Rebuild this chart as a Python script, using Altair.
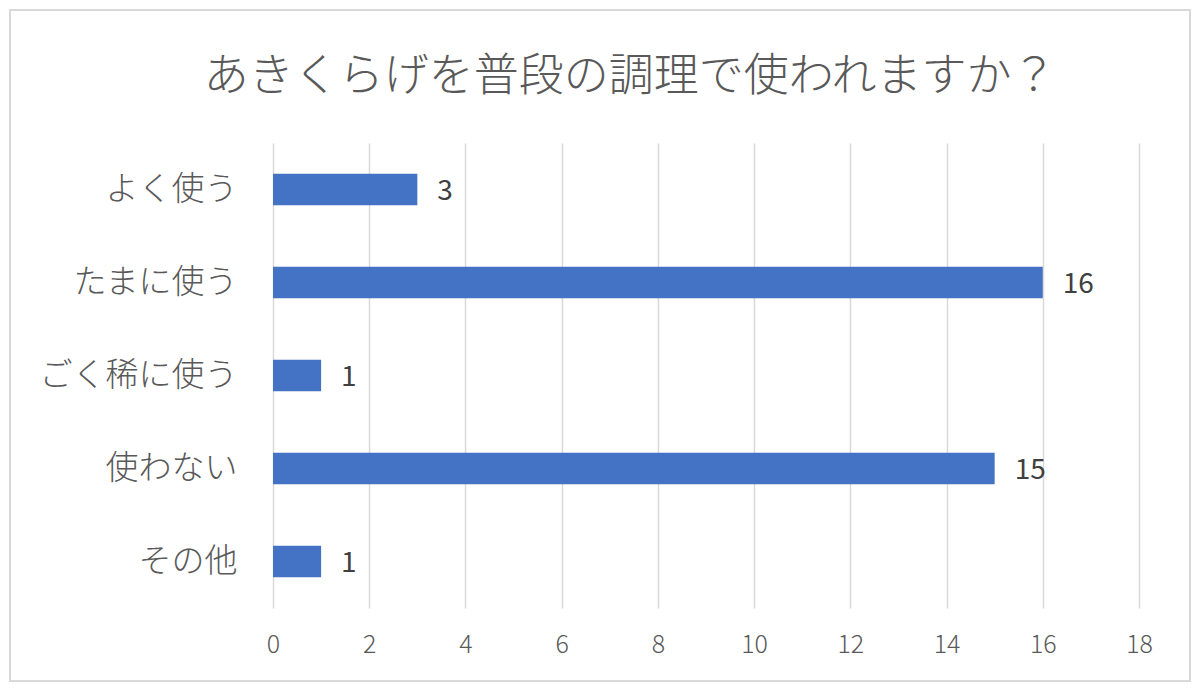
import altair as alt
import pandas as pd

categories = ["よく使う", "たまに使う", "ごく稀に使う", "使わない", "その他"]
counts = [3, 16, 1, 15, 1]
x_ticks = [0, 2, 4, 6, 8, 10, 12, 14, 16, 18]
title_text = "あきくらげを普段の調理で使われますか？"

df = pd.DataFrame({"cat": categories, "n": counts})
tdf = pd.DataFrame({"t": [title_text]})

JP = "Noto Sans CJK JP"

y_enc = alt.Y("cat:N", sort=categories, title=None,
              scale=alt.Scale(paddingInner=0.66, paddingOuter=0.33),
              axis=alt.Axis(labelFontSize=33, labelColor="#595959", labelFont=JP,
                            labelFontWeight=300, labelLimit=400,
                            ticks=False, domain=False, labelPadding=36, grid=False))
x_enc = alt.X("n:Q", title=None,
              scale=alt.Scale(domain=[0, 18], nice=False),
              axis=alt.Axis(values=x_ticks, labelFontSize=25, labelColor="#595959",
                            labelFont=JP, labelFontWeight=300, labelFlush=False,
                            ticks=False, domain=False, labelPadding=24,
                            grid=True, gridColor="#d9d9d9", gridWidth=1.5))

bars = alt.Chart(df).mark_bar(color="#4472C4").encode(x=x_enc, y=y_enc)
labels = alt.Chart(df).mark_text(align="left", baseline="middle", dx=20, dy=2,
                                 fontSize=28, color="#404040", font=JP).encode(
    x="n:Q", y=alt.Y("cat:N", sort=categories), text="n:Q")

border = alt.Chart(df).mark_rect(fill=None, stroke="#d9d9d9", strokeWidth=2).encode(
    x=alt.value(-263), x2=alt.value(917), y=alt.value(-133), y2=alt.value(538))

title = alt.Chart(tdf).mark_text(align="center", baseline="middle", fontSize=45,
                                 color="#595959", font=JP, fontWeight=300).encode(
    x=alt.value(357), y=alt.value(-66), text="t:N")

chart = alt.layer(border, bars, labels, title).properties(
    width=866, height=465,
    padding={"left": 265, "top": 135, "right": 53, "bottom": 74},
    autosize=alt.AutoSizeParams(type="none"),
).configure(background="white").configure_view(
    strokeWidth=0, stroke="transparent").configure_axis(domain=False)

chart.save("out.html", embed_options={"renderer": "svg", "actions": False})
